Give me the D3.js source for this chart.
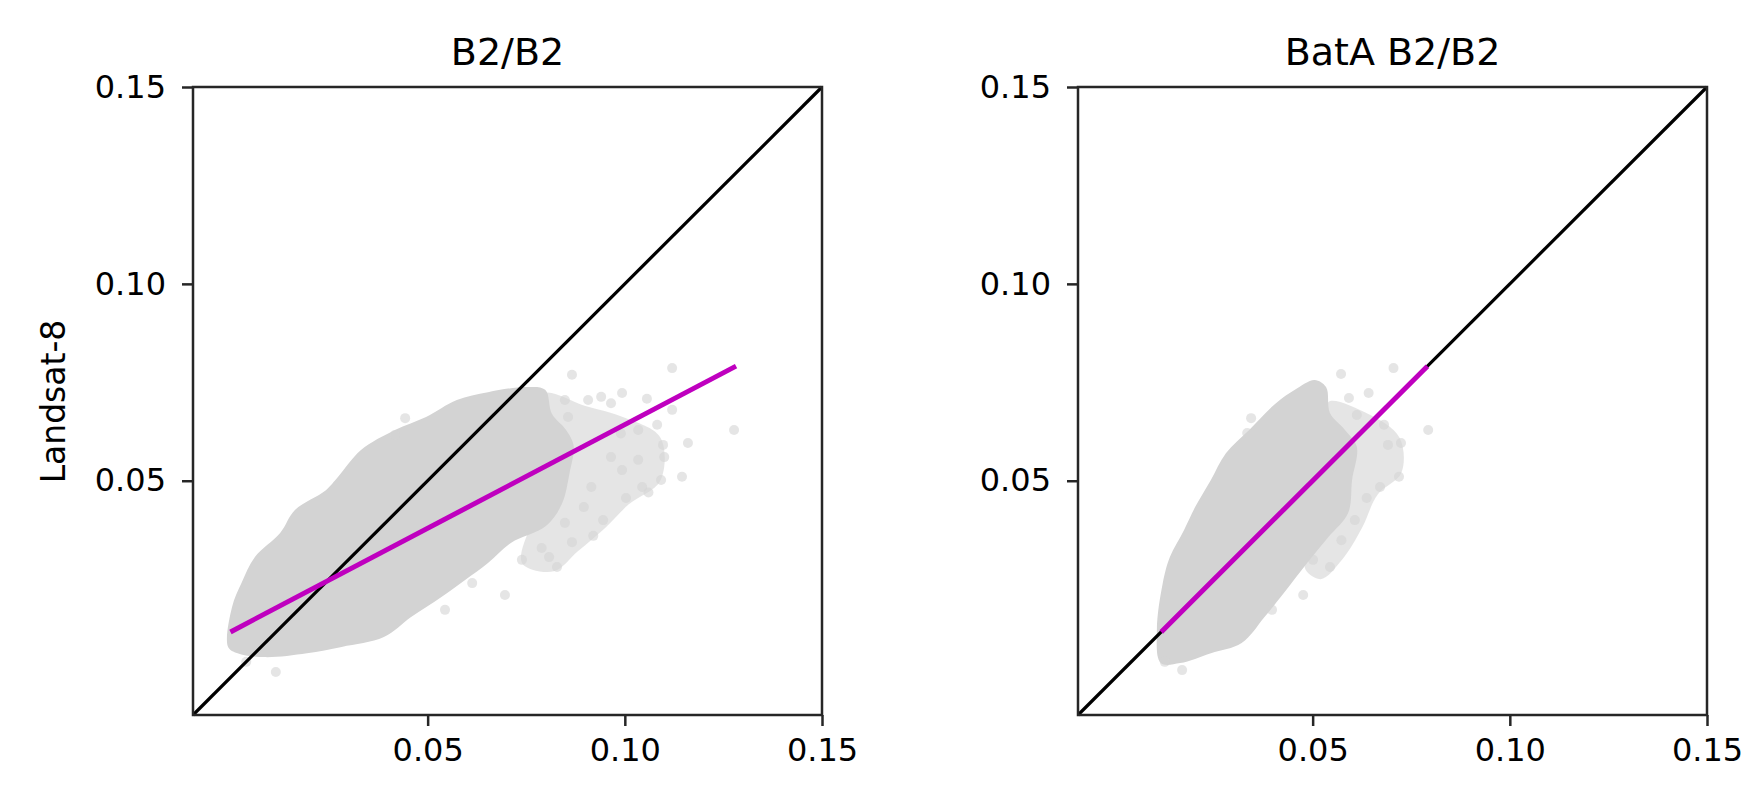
<!DOCTYPE html>
<html>
<head>
<meta charset="utf-8">
<script src="https://cdn.jsdelivr.net/npm/d3@7"></script>
<style>
  body { margin: 0; background: #fff; }
  text { font-family: "DejaVu Sans", sans-serif; fill: #000; }
</style>
</head>
<body>
<svg class="chart"></svg>
<script>
const width = 1764;
const height = 808;

// shared axis settings
const domain = [-0.0095, 0.15];
const ticks = [0.05, 0.10, 0.15];
const titles = ["B2/B2", "BatA B2/B2"];
const yLabel = "Landsat-8";

// fitted line ends (x, y)
const fitB2 = [[0.0, 0.0116], [0.1282, 0.0791]];
const fitBatA = [[0.0116, 0.0116], [0.0791, 0.0791]];

// outline of the dense point cloud
const cloudB2 = [
  [-0.0006, 0.0078], [0.0004, 0.0179], [0.0028, 0.0240], [0.0062, 0.0306],
  [0.0126, 0.0367], [0.0164, 0.0426], [0.0242, 0.0476], [0.0273, 0.0510],
  [0.0331, 0.0578], [0.0417, 0.0629], [0.0496, 0.0662], [0.0574, 0.0705],
  [0.0653, 0.0725], [0.0750, 0.0738], [0.0798, 0.0731], [0.0815, 0.0670],
  [0.0850, 0.0630], [0.0870, 0.0590], [0.0860, 0.0520], [0.0840, 0.0440],
  [0.0800, 0.0385], [0.0711, 0.0342], [0.0653, 0.0291], [0.0595, 0.0248],
  [0.0535, 0.0205], [0.0458, 0.0154], [0.0389, 0.0103], [0.0282, 0.0078],
  [0.0194, 0.0062], [0.0087, 0.0052], [0.0018, 0.0062]
];
// thinner (semi transparent) fringe on the right of the cloud
const hazeB2 = [
  [0.0790, 0.0720], [0.0900, 0.0690], [0.1000, 0.0660], [0.1090, 0.0610],
  [0.1090, 0.0500], [0.1010, 0.0440], [0.0950, 0.0380], [0.0880, 0.0320],
  [0.0820, 0.0270], [0.0740, 0.0290], [0.0760, 0.0380], [0.0810, 0.0450]
];
const outliersB2 = [
  [0.0866, 0.0769], [0.1120, 0.0786], [0.1277, 0.0629], [0.0993, 0.0723],
  [0.1056, 0.0708], [0.0848, 0.0705], [0.0907, 0.0705], [0.0940, 0.0713],
  [0.0965, 0.0697], [0.1120, 0.0680], [0.1082, 0.0642], [0.1034, 0.0629],
  [0.1160, 0.0596], [0.1097, 0.0591], [0.1145, 0.0510], [0.1092, 0.0502],
  [0.1044, 0.0484], [0.1003, 0.0456], [0.0945, 0.0400], [0.0866, 0.0344],
  [0.0828, 0.0281], [0.0739, 0.0299], [0.0696, 0.0210], [0.0613, 0.0240],
  [0.0544, 0.0172], [0.0443, 0.0659], [0.0417, 0.0616], [0.0115, 0.0014],
  [0.0993, 0.0527], [0.0965, 0.0560], [0.0915, 0.0484], [0.0896, 0.0433],
  [0.0848, 0.0393], [0.0789, 0.0329], [0.0808, 0.0306], [0.1034, 0.0553],
  [0.0856, 0.0662], [0.0040, 0.0040], [0.1100, 0.0560], [0.1060, 0.0470],
  [0.0920, 0.0360], [0.0990, 0.0620]
];

const cloudBatA = [
  [0.0115, 0.0037], [0.0105, 0.0121], [0.0120, 0.0240], [0.0138, 0.0306],
  [0.0174, 0.0375], [0.0202, 0.0433], [0.0242, 0.0502], [0.0280, 0.0570],
  [0.0339, 0.0629], [0.0407, 0.0697], [0.0455, 0.0731], [0.0505, 0.0756],
  [0.0534, 0.0738], [0.0544, 0.0672], [0.0582, 0.0629], [0.0612, 0.0586],
  [0.0600, 0.0502], [0.0590, 0.0418], [0.0540, 0.0357], [0.0486, 0.0291],
  [0.0427, 0.0215], [0.0378, 0.0154], [0.0320, 0.0088], [0.0242, 0.0062],
  [0.0164, 0.0037]
];
const hazeBatA = [
  [0.0540, 0.0700], [0.0640, 0.0670], [0.0720, 0.0610], [0.0725, 0.0520],
  [0.0665, 0.0465], [0.0625, 0.0380], [0.0575, 0.0300], [0.0520, 0.0250],
  [0.0480, 0.0280], [0.0560, 0.0400], [0.0590, 0.0550]
];
const outliersBatA = [
  [0.0705, 0.0786], [0.0572, 0.0771], [0.0793, 0.0629], [0.0344, 0.0659],
  [0.0334, 0.0621], [0.0642, 0.0723], [0.0592, 0.0710], [0.0612, 0.0667],
  [0.0681, 0.0642], [0.0691, 0.0591], [0.0724, 0.0596], [0.0719, 0.0510],
  [0.0671, 0.0484], [0.0637, 0.0456], [0.0607, 0.0400], [0.0573, 0.0349],
  [0.0544, 0.0281], [0.0501, 0.0299], [0.0476, 0.0210], [0.0397, 0.0172],
  [0.0169, 0.0019], [0.0549, 0.0535], [0.0125, 0.0040]
];

const panels = [
  { left: 193, title: titles[0], cloud: cloudB2, haze: hazeB2, outliers: outliersB2, fit: fitB2, ylab: true },
  { left: 1078, title: titles[1], cloud: cloudBatA, haze: hazeBatA, outliers: outliersBatA, fit: fitBatA, ylab: false }
];

const plotTop = 87;
const size = 629;

const svg = d3.select(".chart").attr("width", width).attr("height", height);

const drawPanel = p => {
  const xScale = d3.scaleLinear().domain(domain).range([0, size]);
  const yScale = d3.scaleLinear().domain(domain).range([size - 1, 0]);

  const graph = svg.append("g").attr("transform", `translate(${p.left}, ${plotTop})`);

  const line = d3.line()
    .x(d => xScale(d[0]))
    .y(d => yScale(d[1]));
  const blob = d3.line()
    .x(d => xScale(d[0]))
    .y(d => yScale(d[1]))
    .curve(d3.curveCatmullRomClosed);

  graph.append("path")
    .attr("d", blob(p.haze))
    .attr("fill", "#d3d3d3")
    .attr("opacity", 0.6);

  graph.append("path")
    .attr("d", blob(p.cloud))
    .attr("fill", "#d3d3d3");

  graph.selectAll(".pt")
    .data(p.outliers)
    .enter()
    .append("circle")
    .attr("class", "pt")
    .attr("cx", d => xScale(d[0]))
    .attr("cy", d => yScale(d[1]))
    .attr("r", 5)
    .attr("fill", "#d3d3d3")
    .attr("opacity", 0.6);

  // 1:1 line
  graph.append("path")
    .attr("d", line([[domain[0], domain[0]], [domain[1], domain[1]]]))
    .attr("stroke", "#000")
    .attr("stroke-width", 3.2)
    .attr("fill", "none");

  graph.append("path")
    .attr("d", line(p.fit))
    .attr("stroke", "#bf00bf")
    .attr("stroke-width", 5)
    .attr("fill", "none");

  const xAxis = d3.axisBottom(xScale)
    .tickValues(ticks)
    .tickFormat(d3.format(".2f"))
    .tickSize(11)
    .tickPadding(12);
  const yAxis = d3.axisLeft(yScale)
    .tickValues(ticks)
    .tickFormat(d3.format(".2f"))
    .tickSize(11)
    .tickPadding(16);

  const xg = graph.append("g")
    .attr("transform", `translate(0, ${size - 1})`)
    .call(xAxis);
  const yg = graph.append("g").call(yAxis);

  [xg, yg].forEach(g => {
    g.select(".domain").remove();
    g.selectAll(".tick line").attr("stroke", "#262626").attr("stroke-width", 2.5);
    g.selectAll(".tick text").style("font-size", "32px").attr("fill", "#000");
  });

  graph.append("rect")
    .attr("x", 0)
    .attr("y", 0)
    .attr("width", size)
    .attr("height", size - 1)
    .attr("fill", "none")
    .attr("stroke", "#262626")
    .attr("stroke-width", 2.5);

  graph.append("text")
    .text(p.title)
    .attr("x", size / 2)
    .attr("y", -22)
    .attr("text-anchor", "middle")
    .style("font-size", "38px");

  if (p.ylab) {
    graph.append("text")
      .text(yLabel)
      .attr("transform", `translate(-128, ${size / 2}) rotate(-90)`)
      .attr("text-anchor", "middle")
      .style("font-size", "33px");
  }
};

panels.forEach(drawPanel);
</script>
</body>
</html>
